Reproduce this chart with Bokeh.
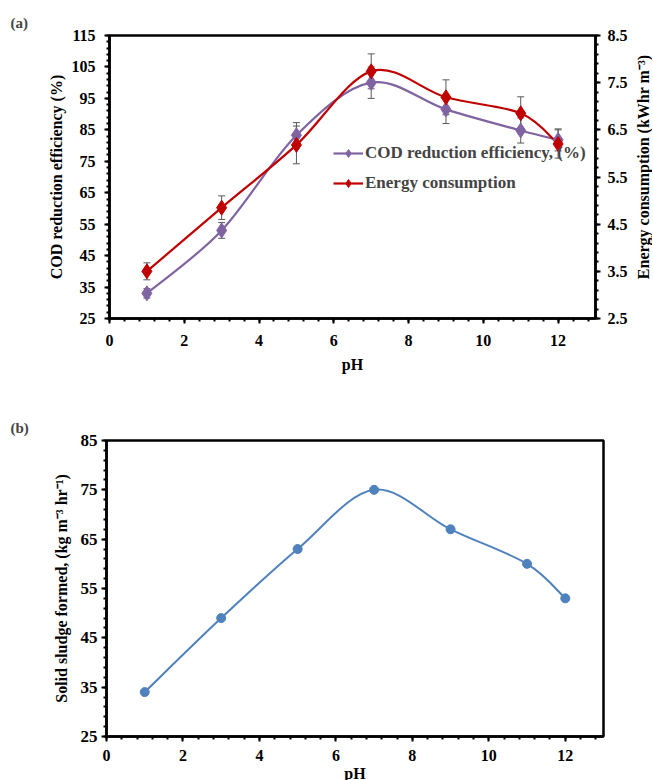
import math
from bokeh.plotting import figure
from bokeh.models import (Range1d, LinearAxis, FixedTicker, Whisker, TeeHead, ColumnDataSource,
                          Legend, LegendItem, Title, Label)
from bokeh.layouts import column, row
from bokeh.embed import file_html
from bokeh.resources import INLINE
import numpy as np

# ---- data ----
ph = [1, 3, 5, 7, 9, 11, 12]
cod = [33, 53, 83.3, 100, 91.5, 84.8, 81.8]
cod_err = [1.5, 2.5, 4.0, 5.0, 4.5, 4.0, 3.5]
energy = [3.5, 4.85, 6.18, 7.74, 7.19, 6.85, 6.2]
energy_err = [0.18, 0.25, 0.4, 0.37, 0.37, 0.35, 0.3]
ph_b = [1, 3, 5, 7, 9, 11, 12]
sludge = [34, 49, 63, 75, 67, 60, 53]

FONT = "Liberation Serif"


def smooth(xs, ys):
    """Excel-style smoothed line: cubic Bezier segments (Catmull-Rom, tension 1/6)."""
    n = len(xs)
    P = list(zip(xs, ys))
    out = dict(x0=[], y0=[], x1=[], y1=[], cx0=[], cy0=[], cx1=[], cy1=[])
    for i in range(n - 1):
        p0 = P[i - 1] if i > 0 else P[i]
        p1 = P[i]
        p2 = P[i + 1]
        p3 = P[i + 2] if i + 2 < n else P[i + 1]
        out["x0"].append(p1[0]); out["y0"].append(p1[1])
        out["x1"].append(p2[0]); out["y1"].append(p2[1])
        out["cx0"].append(p1[0] + (p2[0] - p0[0]) / 6)
        out["cy0"].append(p1[1] + (p2[1] - p0[1]) / 6)
        out["cx1"].append(p2[0] - (p3[0] - p1[0]) / 6)
        out["cy1"].append(p2[1] - (p3[1] - p1[1]) / 6)
    return ColumnDataSource(out)


def style_axis(ax, size="16px"):
    ax.axis_line_width = 2.5
    ax.axis_line_color = "black"
    ax.major_tick_line_width = 2
    ax.minor_tick_line_width = 2
    ax.major_tick_out = 5
    ax.major_tick_in = 0
    ax.minor_tick_out = 3
    ax.minor_tick_in = 0
    ax.major_label_text_font = FONT
    ax.major_label_text_font_style = "bold"
    ax.major_label_text_font_size = size
    ax.major_label_text_color = "black"
    ax.axis_label_text_font = FONT
    ax.axis_label_text_font_style = "bold"
    ax.axis_label_text_font_size = "16px"
    ax.axis_label_text_color = "black"


def corner_title(p, text, offset):
    t = Title(text=text, align="left", offset=offset, text_font=FONT, text_font_style="bold",
              text_font_size="15px", standoff=10)
    p.add_layout(t, "above")


# ---------------- (a) ----------------
A_TOP, A_FH, A_BOT = 35, 283, 62
pa = figure(frame_width=486, frame_height=A_FH, output_backend="svg", toolbar_location=None,
            x_range=Range1d(0, 13), y_range=Range1d(25, 115),
            min_border_left=109, min_border_top=A_TOP, min_border_bottom=A_BOT, min_border_right=39)
pa.extra_y_ranges = {"right": Range1d(2.5, 8.5)}
pa.grid.visible = False
pa.outline_line_color = "black"
pa.outline_line_width = 2.5

pa.xaxis.ticker = FixedTicker(ticks=list(range(0, 13, 2)), minor_ticks=list(np.round(np.arange(0, 13.01, 0.4), 2)))
pa.yaxis.ticker = FixedTicker(ticks=list(range(25, 116, 10)), minor_ticks=list(range(25, 116, 2)))
pa.xaxis.axis_label = "pH"
pa.yaxis.axis_label = "COD reduction efficiency (%)"
style_axis(pa.xaxis[0])
style_axis(pa.yaxis[0])
pa.xaxis.major_label_standoff = 11
pa.xaxis.axis_label_standoff = 7
pa.yaxis.major_label_standoff = 9
pa.yaxis.axis_label_standoff = 4

ra = LinearAxis(y_range_name="right",
                ticker=FixedTicker(ticks=list(np.arange(2.5, 8.6, 1.0)),
                                   minor_ticks=list(np.round(np.arange(2.5, 8.51, 0.2), 2))))
style_axis(ra)
ra.major_label_standoff = 7
pa.add_layout(ra, "right")

cod_src = ColumnDataSource(dict(x=ph, y=cod, up=[c + e for c, e in zip(cod, cod_err)],
                                lo=[c - e for c, e in zip(cod, cod_err)]))
en_src = ColumnDataSource(dict(x=ph, y=energy, up=[c + e for c, e in zip(energy, energy_err)],
                               lo=[c - e for c, e in zip(energy, energy_err)]))

PURPLE = "#8064A2"
RED = "#C00000"
GRAY = "#595959"

cod_line = pa.bezier(source=smooth(ph, cod), x0="x0", y0="y0", x1="x1", y1="y1",
                     cx0="cx0", cy0="cy0", cx1="cx1", cy1="cy1", line_color=PURPLE, line_width=2.2)
en_line = pa.bezier(source=smooth(ph, energy), x0="x0", y0="y0", x1="x1", y1="y1",
                    cx0="cx0", cy0="cy0", cx1="cx1", cy1="cy1", line_color=RED, line_width=2.2,
                    y_range_name="right")

w1 = Whisker(source=cod_src, base="x", upper="up", lower="lo", line_color=GRAY, line_width=1,
             upper_head=TeeHead(size=7, line_color=GRAY, line_width=1),
             lower_head=TeeHead(size=7, line_color=GRAY, line_width=1))
w2 = Whisker(source=en_src, base="x", upper="up", lower="lo", line_color=GRAY, line_width=1,
             y_range_name="right",
             upper_head=TeeHead(size=7, line_color=GRAY, line_width=1),
             lower_head=TeeHead(size=7, line_color=GRAY, line_width=1))
pa.add_layout(w1)
pa.add_layout(w2)

cod_pts = pa.scatter("x", "y", source=cod_src, marker="diamond", size=15, fill_color=PURPLE,
                     line_color=PURPLE)
en_pts = pa.scatter("x", "y", source=en_src, marker="diamond", size=15, fill_color=RED,
                    line_color=RED, y_range_name="right")

legend = Legend(items=[LegendItem(label="COD reduction efficiency, (%)", renderers=[cod_line, cod_pts]),
                       LegendItem(label="Energy consumption", renderers=[en_line, en_pts])],
                location=(224, 125), background_fill_alpha=0, border_line_alpha=0,
                label_text_font=FONT, label_text_font_style="bold", label_text_font_size="17px",
                glyph_width=30, glyph_height=20, label_height=20, spacing=10, padding=0, margin=0,
                label_standoff=2)
pa.add_layout(legend)
corner_title(pa, "(a)", -99)

# right-axis title in a narrow side panel, reading bottom-to-top
A_H = A_TOP + A_FH + A_BOT
lab = figure(width=18, height=A_H, output_backend="svg", toolbar_location=None,
             x_range=Range1d(0, 18), y_range=Range1d(0, A_H), min_border=0,
             x_axis_location=None, y_axis_location=None)
lab.grid.visible = False
lab.outline_line_color = None
lab.add_layout(Label(x=9, y=A_BOT + A_FH / 2, text="Energy consumption (kWhr m\u207b\u00b3)",
                     angle=math.pi / 2, text_align="center", text_baseline="middle", text_font=FONT,
                     text_font_style="bold", text_font_size="16px", text_color="black"))

# ---------------- (b) ----------------
pb = figure(frame_width=497, frame_height=296, output_backend="svg", toolbar_location=None,
            x_range=Range1d(0, 13), y_range=Range1d(25, 85),
            min_border_left=106, min_border_top=60, min_border_bottom=34, min_border_right=30)
pb.grid.visible = False
pb.outline_line_color = "black"
pb.outline_line_width = 2.5
pb.xaxis.ticker = FixedTicker(ticks=list(range(0, 13, 2)), minor_ticks=list(np.round(np.arange(0, 13.01, 0.4), 2)))
pb.yaxis.ticker = FixedTicker(ticks=list(range(25, 86, 10)), minor_ticks=list(range(25, 86, 2)))
pb.xaxis.axis_label = "pH"
pb.yaxis.axis_label = "Solid sludge formed, (kg m\u207b\u00b3 hr\u207b\u00b9)"
style_axis(pb.xaxis[0], "16px")
style_axis(pb.yaxis[0], "17px")
pb.xaxis.major_label_standoff = 8
pb.xaxis.axis_label_standoff = 1
pb.yaxis.major_label_standoff = 4
pb.yaxis.axis_label_standoff = 8

BLUE = "#4F81BD"
pb.bezier(source=smooth(ph_b, sludge), x0="x0", y0="y0", x1="x1", y1="y1",
          cx0="cx0", cy0="cy0", cx1="cx1", cy1="cy1", line_color=BLUE, line_width=2)
pb.scatter(ph_b, sludge, marker="circle", size=9, fill_color=BLUE, line_color=BLUE)
corner_title(pb, "(b)", -96)

layout = column(row(pa, lab, spacing=0), pb, spacing=0)
open("out.html", "w").write(file_html(layout, INLINE))
